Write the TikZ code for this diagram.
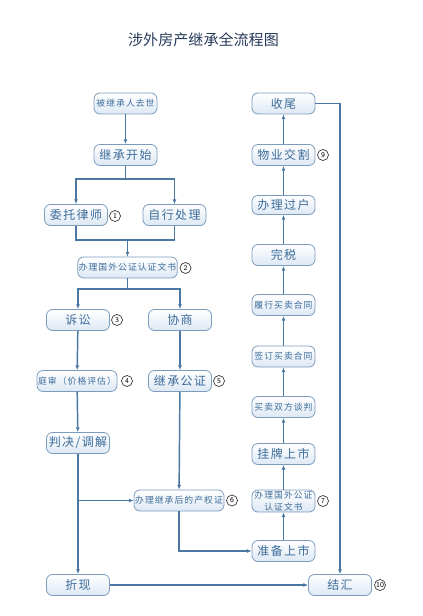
\documentclass[tikz,border=0pt]{standalone}
\usepackage{fontspec}
\newfontfamily\cjk{Noto Sans CJK SC}
\newfontfamily\cjkwide[LetterSpace=12]{Noto Sans CJK SC}
\usetikzlibrary{arrows.meta}
\definecolor{linecol}{HTML}{4A78A3}
\definecolor{boxline}{HTML}{7C9CBD}
\definecolor{boxtext}{HTML}{3C6C9A}
\definecolor{titlecol}{HTML}{26395A}
\definecolor{boxfill}{HTML}{DDE8F4}

\tikzset{every picture/.style={line width=0.75pt}}
\tikzset{
  flowbox/.style={draw=boxline, line width=0.6pt, rounded corners=4.5pt, top color=white, bottom color=boxfill,
    minimum width=63*0.75pt, minimum height=21*0.75pt, inner sep=0.75pt, text=boxtext, font=\cjkwide\fontsize{9}{10}\selectfont},
  smalltext/.style={font=\cjkwide\fontsize{6.6}{8}\selectfont},
  numcirc/.style={draw=black!80, circle, line width=0.5pt, inner sep=0pt, minimum size=11*0.75pt, font=\sffamily\fontsize{5.5}{6}\selectfont},
  flow/.style={draw=linecol, line width=1.1pt},
  flowarrow/.style={flow, -{Latex[length=3.5pt,width=3pt]}}
}

\begin{document}
\begin{tikzpicture}[x=0.75pt,y=0.75pt,yscale=-1,xscale=1]
\useasboundingbox (0,0) rectangle (422,616);

% Title
\node (title) at (203.5,40) [text=titlecol, font=\cjk\fontsize{11.3}{13}\selectfont] {涉外房产继承全流程图};

% Left column
\node (qs) at (125.5,103.5) [flowbox, smalltext] {被继承人去世};
\node (ks) at (125.5,155) [flowbox] {继承开始};
\node (wt) at (76,215) [flowbox] {委托律师};
\node (zx) at (174.5,215) [flowbox] {自行处理};
\node (gzl) at (127.5,267.5) [flowbox, smalltext, minimum width=99*0.75pt] {办理国外公证认证文书};
\node (ss) at (78,320) [flowbox] {诉讼};
\node (xs) at (180,320) [flowbox] {协商};
\node (ts) at (77,381) [flowbox, smalltext, minimum width=80*0.75pt] {庭审（价格评估）};
\node (jg) at (180,381) [flowbox] {继承公证};
\node (pj) at (78,443) [flowbox] {判决/调解};
\node (cq) at (179,500.5) [flowbox, smalltext, minimum width=90*0.75pt] {办理继承后的产权证};
\node (zxn) at (78,585) [flowbox] {折现};

% Right column
\node (sw) at (283.5,103.5) [flowbox] {收尾};
\node (wy) at (283.5,155) [flowbox] {物业交割};
\node (gh) at (283.5,205) [flowbox, minimum height=19*0.75pt] {办理过户};
\node (ws) at (283.5,255) [flowbox] {完税};
\node (lx) at (283.5,305) [flowbox, smalltext] {履行买卖合同};
\node (qd) at (283.5,356.5) [flowbox, smalltext] {签订买卖合同};
\node (tp) at (283.5,407) [flowbox, smalltext] {买卖双方谈判};
\node (gp) at (283.5,454) [flowbox] {挂牌上市};
\node (gzr) at (283.5,501) [flowbox, smalltext, align=center, font=\cjkwide\fontsize{6.6}{9}\selectfont] {办理国外公证\\认证文书};
\node (zb) at (283.5,551) [flowbox] {准备上市};
\node (jh) at (340,585) [flowbox] {结汇};

% Numbers
\node (c1) at (115,216) [numcirc] {1};
\node (c2) at (185.5,268) [numcirc] {2};
\node (c3) at (117,320) [numcirc] {3};
\node (c4) at (127,381) [numcirc] {4};
\node (c5) at (219,381) [numcirc] {5};
\node (c6) at (232,500.5) [numcirc] {6};
\node (c7) at (323,501) [numcirc] {7};
\node (c9) at (323,155) [numcirc] {9};
\node (c10) at (380,585) [numcirc] {10};

% Branch points
\coordinate (s1) at (125.5,179);
\coordinate (m1) at (127.5,240);
\coordinate (s2) at (127.5,289);
\coordinate (s3) at (78,500.5);

% Connectors, left
\draw [flowarrow] (qs) -- (ks);
\draw [flow] (ks) -- (s1);
\draw [flowarrow] (s1) -| (wt);
\draw [flowarrow] (s1) -| (zx);
\draw [flow] (wt) |- (m1);
\draw [flow] (zx) |- (m1);
\draw [flowarrow] (m1) -- (gzl);
\draw [flow] (gzl) -- (s2);
\draw [flowarrow] (s2) -| (ss);
\draw [flowarrow] (s2) -| (xs);
\draw [flowarrow] (ss) -- (ts);
\draw [flowarrow] (ts) -- (pj);
\draw [flowarrow] (pj) -- (zxn);
\draw [flowarrow] (s3) -- (cq);
\draw [flowarrow] (xs) -- (jg);
\draw [flowarrow] (jg) -- (cq);
\draw [flowarrow] (cq) |- (zb);
\draw [flowarrow] (zxn) -- (jh);

% Connectors, right
\draw [flowarrow] (zb) -- (gzr);
\draw [flowarrow] (gzr) -- (gp);
\draw [flowarrow] (gp) -- (tp);
\draw [flowarrow] (tp) -- (qd);
\draw [flowarrow] (qd) -- (lx);
\draw [flowarrow] (lx) -- (ws);
\draw [flowarrow] (ws) -- (gh);
\draw [flowarrow] (gh) -- (wy);
\draw [flowarrow] (wy) -- (sw);
\draw [flowarrow] (sw) -| (jh);
\end{tikzpicture}
\end{document}
